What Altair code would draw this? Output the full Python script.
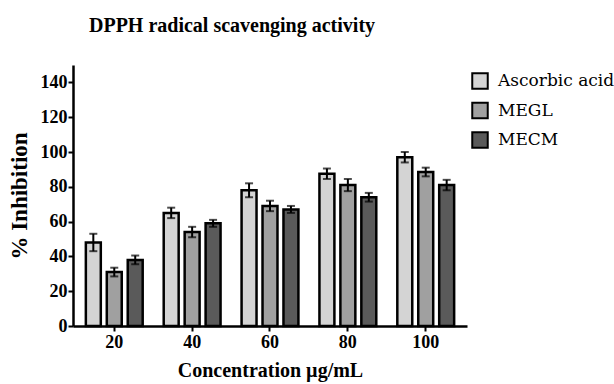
import altair as alt
import pandas as pd

concentrations = ["20", "40", "60", "80", "100"]
series = ["Ascorbic acid", "MEGL", "MECM"]
ascorbic = [48, 65, 78, 87.5, 97]
ascorbic_err = [5, 3, 4, 3, 3]
megl = [31, 54, 69, 81, 88.5]
megl_err = [2.5, 3, 3, 3.5, 2.5]
mecm = [38, 59, 67, 74, 81]
mecm_err = [2.5, 2, 2, 2.5, 3]

rows = []
for name, vals, errs in [("Ascorbic acid", ascorbic, ascorbic_err), ("MEGL", megl, megl_err), ("MECM", mecm, mecm_err)]:
    for c, v, e in zip(concentrations, vals, errs):
        rows.append({"conc": c, "series": name, "value": v, "lo": v - e, "hi": v + e})
df = pd.DataFrame(rows)

FONT = "Liberation Serif"

yaxis = alt.Axis(values=[0, 20, 40, 60, 80, 100, 120, 140], grid=False, labelOverlap=False,
                 labelFontSize=18, labelFontWeight="bold", labelFont=FONT,
                 titleFontSize=23, titleFontWeight="bold", titleFont=FONT, titlePadding=9,
                 domainWidth=2.5, domainColor="black", tickColor="black", tickWidth=2,
                 tickSize=5, labelColor="black", titleColor="black", labelPadding=1)
yscale = alt.Scale(domain=[0, 150], nice=False)

x = alt.X("conc:N", sort=concentrations, title="Concentration µg/mL",
          scale=alt.Scale(paddingInner=0.27, paddingOuter=0.165),
          axis=alt.Axis(labelAngle=0, labelFontSize=18, labelFontWeight="bold", labelFont=FONT,
                        titleFontSize=20, titleFontWeight="bold", titleFont=FONT, titlePadding=9,
                        domainWidth=2.5, domainColor="black", tickColor="black", tickWidth=2,
                        tickSize=5, labelColor="black", titleColor="black", labelPadding=2))
xo = alt.XOffset("series:N", sort=series, scale=alt.Scale(paddingInner=0.286, paddingOuter=0))

bars = alt.Chart(df).mark_bar(stroke="black", strokeWidth=2.5).encode(
    x=x, xOffset=xo,
    y=alt.Y("value:Q", title="% Inhibition", scale=yscale, axis=yaxis),
    fill=alt.Fill("series:N", sort=series,
                  scale=alt.Scale(domain=series, range=["#d4d4d4", "#a0a0a0", "#5a5a5a"]),
                  legend=alt.Legend(title=None, orient="none", legendX=398, legendY=7,
                                    symbolType="square", symbolSize=240, symbolStrokeColor="black",
                                    symbolStrokeWidth=2, labelFontSize=17,
                                    labelColor="black", rowPadding=5.5, labelOffset=9)),
)

errs = alt.Chart(df).mark_errorbar(ticks=alt.MarkConfig(size=8, strokeWidth=2), color="black", thickness=2).encode(
    x=x, xOffset=xo,
    y=alt.Y("lo:Q", title="% Inhibition", scale=yscale, axis=yaxis),
    y2="hi:Q",
)

chart = alt.layer(bars, errs).properties(
    width=394, height=261,
    title=alt.Title("DPPH radical scavenging activity", font=FONT, fontSize=20, fontWeight="bold",
                    color="black", anchor="middle", offset=29, dx=-38),
    autosize=alt.AutoSizeParams(type="none"),
    padding={"left": 73, "top": 65, "right": 147, "bottom": 58},
).configure_view(stroke=None).configure_legend(labelFont="DejaVu Serif", labelFontWeight="normal")

chart.save("out.html", embed_options={"renderer": "svg", "actions": False})
